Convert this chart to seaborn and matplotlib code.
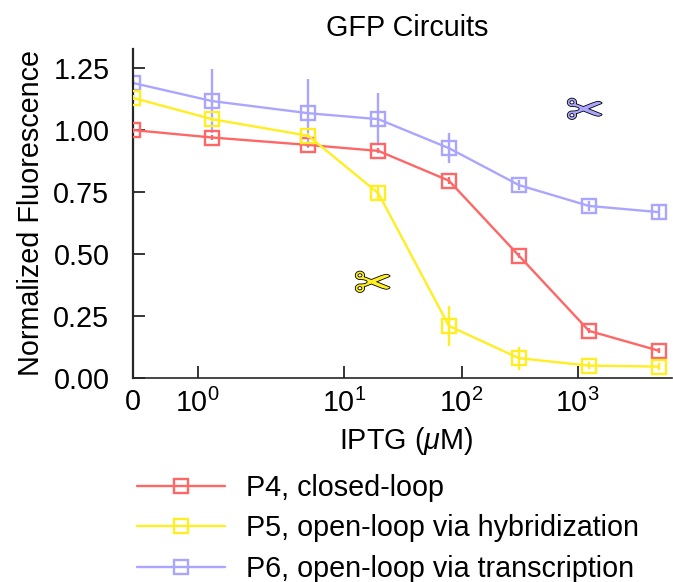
import numpy as np
import pandas as pd
import matplotlib
matplotlib.use("Agg")
import matplotlib.pyplot as plt
import matplotlib.patheffects as pe
from matplotlib.lines import Line2D
import seaborn as sns

# IPTG dilution series (uM)
iptg = [0, 1.22, 4.88, 19.5, 78, 312, 1250, 5000]

p4 = [1.0, 0.97, 0.94, 0.916, 0.796, 0.493, 0.19, 0.11]
p5 = [1.13, 1.044, 0.977, 0.745, 0.21, 0.08, 0.05, 0.046]
p6 = [1.19, 1.117, 1.068, 1.044, 0.927, 0.778, 0.694, 0.669]

p4_err = [0.01, 0.01, 0.01, 0.01, 0.015, 0.01, 0.01, 0.01]
p5_err = [0.01, 0.01, 0.01, 0.03, 0.08, 0.047, 0.015, 0.015]
p6_err = [0.01, 0.13, 0.14, 0.105, 0.06, 0.02, 0.02, 0.025]

names = ["P4, closed-loop", "P5, open-loop via hybridization", "P6, open-loop via transcription"]
colors = ["#FF6666", "#FFEE22", "#AAA6FF"]

yticks = [0, 0.25, 0.5, 0.75, 1.0, 1.25]
ylabels = ["0.00", "0.25", "0.50", "0.75", "1.00", "1.25"]
xticks = [1, 10, 100, 1000]
xlabels = ["$10^{0}$", "$10^{1}$", "$10^{2}$", "$10^{3}$"]

df = pd.DataFrame({
    "iptg": iptg * 3,
    "value": p4 + p5 + p6,
    "construct": [names[0]] * 8 + [names[1]] * 8 + [names[2]] * 8,
})

sns.set_style("ticks")
plt.rcParams["font.family"] = ["Liberation Sans", "DejaVu Sans"]
plt.rcParams["mathtext.fontset"] = "custom"
plt.rcParams["mathtext.rm"] = "Liberation Sans"
plt.rcParams["mathtext.it"] = "Liberation Sans:italic"
plt.rcParams["mathtext.default"] = "regular"
plt.rcParams["text.color"] = "black"
plt.rcParams["axes.labelcolor"] = "black"
plt.rcParams["xtick.labelcolor"] = "black"
plt.rcParams["ytick.labelcolor"] = "black"

fig = plt.figure(figsize=(6.73, 5.82), dpi=100)
ax = fig.add_axes([133 / 673, 1 - 378 / 582, (672 - 133) / 673, (378 - 49) / 582])

# the axis of the original is stretched by hand around the low decades
# 0 sits at the left end, everything else is log10 between the anchors
scale_u = [-3, 0, np.log10(1.22), np.log10(4.88), 1, 2, 3, 4]
scale_p = [0, 64.7, 79, 175, 211, 328, 444, 560]


def fwd(x):
    x = np.asarray(x, dtype=float)
    return np.interp(np.log10(np.clip(x, 1e-3, None)), scale_u, scale_p)


def inv(p):
    return 10 ** np.interp(p, scale_p, scale_u)


ax.set_xscale("function", functions=(fwd, inv))

sns.lineplot(data=df, x="iptg", y="value", hue="construct", hue_order=names, palette=colors,
             marker="s", markersize=9.5, markerfacecolor="none", markeredgewidth=1.7,
             linewidth=1.7, errorbar=None, legend=False, ax=ax)

for line, z, col in zip(ax.get_lines()[:3], [3, 4, 2], colors):
    line.set_zorder(z)
    line.set_markeredgecolor(col)

for vals, errs, col, z in zip([p4, p5, p6], [p4_err, p5_err, p6_err], colors, [3, 4, 2]):
    ax.errorbar(iptg, vals, yerr=errs, fmt="none", ecolor=col, elinewidth=1.7, capsize=0, zorder=z)

ax.set_xlim(0, 6470)
ax.set_ylim(0, 1.327)
ax.set_xticks(xticks)
ax.set_xticklabels(xlabels)
ax.set_yticks(yticks)
ax.set_yticklabels(ylabels)
ax.minorticks_off()

ax.tick_params(axis="both", direction="in", length=8.5, width=1.1, labelsize=20.7, color="black")
ax.tick_params(axis="x", pad=8)
ax.tick_params(axis="y", pad=17)
ax.text(0, -0.03, "0", transform=ax.get_xaxis_transform(), ha="center", va="top", fontsize=20.7)

ax.spines["top"].set_visible(False)
ax.spines["right"].set_visible(False)
ax.spines["left"].set_linewidth(1.6)
ax.spines["bottom"].set_linewidth(1.2)

ax.set_title("GFP Circuits", fontsize=20.7, pad=9, x=0.508)
ax.set_xlabel(r"IPTG ($\mathit{\mu}$M)", fontsize=20.7, labelpad=4.5, x=0.506)
ax.yaxis.set_label_coords(-0.163, 0.5)
ax.set_ylabel("Normalized Fluorescence", fontsize=20.7)

handles = [Line2D([], [], color=c, marker="s", markersize=9.5, markerfacecolor="none",
                  markeredgewidth=1.7, linewidth=1.7) for c in colors]
leg = ax.legend(handles, names, loc="upper left", bbox_to_anchor=(0.0074, -0.291), frameon=False, fontsize=20.7,
                labelspacing=0.44, handlelength=3.05, handletextpad=0.75, borderaxespad=0, borderpad=0)

# scissors mark the cleavage constructs
for xp, yp, col in [(585, 113, colors[2]), (373, 286, colors[1])]:
    t = fig.text(xp / 673, 1 - yp / 582, "\u2702", family="DejaVu Sans", fontsize=33, color=col,
                 ha="center", va="center")
    t.set_path_effects([pe.withStroke(linewidth=1.2, foreground="black")])

fig.savefig("out.png", dpi=100)
